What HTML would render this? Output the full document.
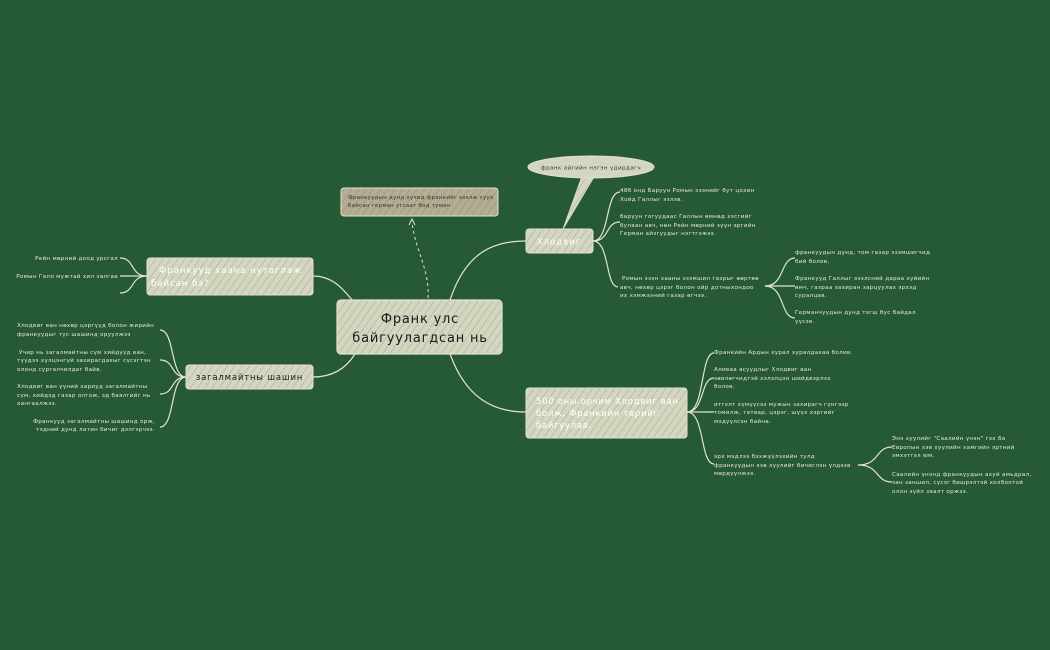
<!DOCTYPE html>
<html><head><meta charset="utf-8"><style>
html,body{margin:0;padding:0;background:#265935;}
svg{display:block}
text{font-family:"DejaVu Sans","Liberation Sans",sans-serif;}
.lf{font-size:5.6px;fill:#ece9d2;letter-spacing:0.3px}
.ln{fill:none;stroke:#e4e2cc;stroke-width:1.2}
</style></head><body>
<svg width="1050" height="650" viewBox="0 0 1050 650" xmlns="http://www.w3.org/2000/svg">
<defs>
<pattern id="h" width="6" height="6" patternUnits="userSpaceOnUse" patternTransform="rotate(35)">
<rect width="6" height="6" fill="#d5d6c0"/>
<line x1="0" y1="0" x2="0" y2="6" stroke="#8ea07e" stroke-width="0.8"/>
</pattern>
<pattern id="ht" width="6" height="6" patternUnits="userSpaceOnUse" patternTransform="rotate(35)">
<rect width="6" height="6" fill="#b3ad92"/>
<line x1="0" y1="0" x2="0" y2="6" stroke="#7f8a6a" stroke-width="0.8"/>
</pattern>
</defs>
<rect width="1050" height="650" fill="#265935"/>

<!-- main connectors -->
<path class="ln" d="M450,300 C465,255 490,241 526,241"/>
<path class="ln" d="M450,354 C465,395 490,412 526,412"/>
<path class="ln" d="M352,300 C340,285 330,276 313,276"/>
<path class="ln" d="M355,354 C345,370 330,377 313,377"/>
<path d="M428,298 C430,270 415,250 412,222" fill="none" stroke="#e4e2cc" stroke-width="1" stroke-dasharray="3,3"/>
<path d="M409,225 L412,219 L415,225" fill="none" stroke="#e4e2cc" stroke-width="1"/>

<!-- Хлодвиг leaves -->
<path class="ln" d="M593,241 C610,241 605,192 620,192"/>
<path class="ln" d="M593,241 C610,241 605,222 620,222"/>
<path class="ln" d="M593,241 C610,241 605,287 618,287"/>
<text class="lf" x="620" y="192">486 онд Баруун Ромын эзэнийг бут цохин</text>
<text class="lf" x="620" y="201">Хойд Галлыг эзлэв.</text>
<text class="lf" x="620" y="218">баруун гогуудаас Галлын өмнөд хэсгийг</text>
<text class="lf" x="620" y="227">булаан авч, нөн Рейн мөрний зүүн эргийн</text>
<text class="lf" x="620" y="235">Герман айзгуудыг нэгтгэжээ.</text>
<text class="lf" x="622" y="280">Ромын эзэн хааны эзэмшил газрыг өөртөө</text>
<text class="lf" x="620" y="289">авч, нөхөр цэрэг болон ойр дотныхондоо</text>
<text class="lf" x="620" y="297">их хэмжээний газар өгчээ.</text>
<path class="ln" d="M765,286 C785,286 780,258 795,258"/>
<path class="ln" d="M765,286 C780,286 785,286 795,286"/>
<path class="ln" d="M765,286 C785,286 780,318 795,318"/>
<text class="lf" x="795" y="254">франкуудын дунд, том газар эзэмшигчид</text>
<text class="lf" x="795" y="263">бий болов,</text>
<text class="lf" x="795" y="280">Франкууд Галлыг эзэлсний дараа хүйийн</text>
<text class="lf" x="795" y="289">өмч, газраа захиран зарцуулах эрхэд</text>
<text class="lf" x="795" y="297">суралцав.</text>
<text class="lf" x="795" y="314">Германчуудын дунд тэгш бус байдал</text>
<text class="lf" x="795" y="323">үүсэв.</text>

<!-- 500 leaves -->
<path class="ln" d="M687,412 C705,412 700,353 714,353"/>
<path class="ln" d="M687,412 C705,412 700,378 714,378"/>
<path class="ln" d="M687,412 C700,412 705,412 714,412"/>
<path class="ln" d="M687,412 C705,412 700,464 714,464"/>
<text class="lf" x="714" y="354">Франкийн Ардын хурал хуралдахаа болив.</text>
<text class="lf" x="714" y="371">Аливаа асуудлыг Хлодвиг ван</text>
<text class="lf" x="714" y="380">зөвлөгчидтэй хэлэлцэн шийдвэрлэх</text>
<text class="lf" x="714" y="388">болов.</text>
<text class="lf" x="714" y="406">итгэлт хүмүүсээ мужын захирагч гүнгээр</text>
<text class="lf" x="714" y="414">томилж, татвар, цэрэг, шүүх хэргийг</text>
<text class="lf" x="714" y="423">мэдүүлсэн байна.</text>
<text class="lf" x="714" y="458">эрх мэдлээ бэхжүүлэхийн тулд</text>
<text class="lf" x="714" y="467">франкуудын хэв хуулийг бичиглэн үлдээв</text>
<text class="lf" x="714" y="475">мөрдүүлжээ.</text>
<path class="ln" d="M858,465 C880,465 875,447 892,447"/>
<path class="ln" d="M858,465 C880,465 875,482 892,482"/>
<text class="lf" x="892" y="440">Энэ хуулийг "Саалийн үнэн" гэх ба</text>
<text class="lf" x="892" y="449">Европын хэв хуулийн хамгийн эртний</text>
<text class="lf" x="892" y="457">эмхэтгэл юм.</text>
<text class="lf" x="892" y="476">Саалийн үнэнд франкуудын ахуй амьдрал,</text>
<text class="lf" x="892" y="484">зан заншил, сүсэг бишрэлтэй холбоотой</text>
<text class="lf" x="892" y="493">олон зүйл заалт оржээ.</text>

<!-- left top leaves -->
<path class="ln" d="M147,276 C130,276 135,258 120,258"/>
<path class="ln" d="M147,276 C135,276 130,276 120,276"/>
<path class="ln" d="M147,276 C130,276 135,293 120,293"/>
<text class="lf" x="118" y="260" text-anchor="end">Рейн мөрний доод урсгал</text>
<text class="lf" x="118" y="278" text-anchor="end">Ромын Галл мужтай хил залгаа</text>

<!-- left bottom leaves -->
<path class="ln" d="M186,377 C170,377 175,330 160,330"/>
<path class="ln" d="M186,377 C170,377 175,360 160,360"/>
<path class="ln" d="M186,377 C170,377 175,394 160,394"/>
<path class="ln" d="M186,377 C170,377 175,427 160,427"/>
<text class="lf" x="17" y="327">Хлодвиг ван нөхөр цэргүүд болон жирийн</text>
<text class="lf" x="17" y="336">франкуудыг түс шашинд  оруулжээ</text>
<text class="lf" x="19" y="354">Учир нь загалмайтны сүм хийдүүд ван,</text>
<text class="lf" x="17" y="362">түүдээ хүлцэнгүй захирагдахыг сүсэгтэн</text>
<text class="lf" x="17" y="371">олонд сургалчилдаг байв.</text>
<text class="lf" x="17" y="388">Хлодвиг ван үүний хариуд загалмайтны</text>
<text class="lf" x="17" y="397">сүм, хийдэд газар олгож, эд баялгийг нь</text>
<text class="lf" x="17" y="405">хангаалжээ.</text>
<text class="lf" x="155" y="423" text-anchor="end">Франкууд загалмайтны шашинд орж,</text>
<text class="lf" x="155" y="431" text-anchor="end">тэдний дунд латин бичиг дэлгэрчээ.</text>

<!-- bubble -->
<path d="M563,229 L582,176 L594,177 Z" fill="url(#h)" stroke="#e4e2cc" stroke-width="0.8"/>
<ellipse cx="591" cy="167" rx="63" ry="11" fill="#d5d6c0" stroke="#e4e2cc"/>
<text x="591" y="169.5" font-size="5.6" fill="#333" text-anchor="middle" letter-spacing="0.4">франк айгийн нэгэн удирдагч</text>

<!-- callout -->
<rect x="341" y="188" width="157" height="28" rx="3" fill="url(#ht)" stroke="#e4e2cc" stroke-width="1"/>
<text x="348" y="199" font-size="5.4" fill="#333" letter-spacing="0.3">Франкуудын дунд хүчид франкийг эзэлж суух</text>
<text x="348" y="207" font-size="5.4" fill="#333" letter-spacing="0.3">байсан герман угсаат бод туман</text>

<!-- central -->
<rect x="337" y="300" width="165" height="54" rx="4" fill="url(#h)" stroke="#e4e2cc" stroke-width="1.2"/>
<text x="420" y="323" font-size="13" fill="#1a1a1a" text-anchor="middle" letter-spacing="0.8">Франк улс</text>
<text x="420" y="342" font-size="13" fill="#1a1a1a" text-anchor="middle" letter-spacing="0.8">байгуулагдсан нь</text>

<!-- Хлодвиг -->
<rect x="526" y="229" width="67" height="24" rx="3" fill="url(#h)" stroke="#e4e2cc" stroke-width="1"/>
<text x="559" y="244.5" font-size="8.5" fill="#fff" text-anchor="middle" letter-spacing="1">Хлодвиг</text>

<!-- 500 -->
<rect x="526" y="388" width="161" height="50" rx="3" fill="url(#h)" stroke="#e4e2cc" stroke-width="1"/>
<text x="536" y="404" font-size="8.5" fill="#fff" letter-spacing="0.7">500 оны орчим Хлодвиг ван</text>
<text x="536" y="416" font-size="8.5" fill="#fff" letter-spacing="0.7">болж, Франкийн төрийг</text>
<text x="536" y="428" font-size="8.5" fill="#fff" letter-spacing="0.7">байгуулав.</text>

<!-- Франкууд хаана -->
<rect x="147" y="258" width="166" height="37" rx="3" fill="url(#h)" stroke="#e4e2cc" stroke-width="1"/>
<text x="159" y="273" font-size="8.5" fill="#fff" letter-spacing="1">Франкууд хаана нутаглаж</text>
<text x="151" y="286" font-size="8.5" fill="#fff" letter-spacing="1">байсан бэ?</text>

<!-- загалмайтны -->
<rect x="186" y="365" width="127" height="24" rx="3" fill="url(#h)" stroke="#e4e2cc" stroke-width="1"/>
<text x="249.5" y="380" font-size="8.5" fill="#1a1a1a" text-anchor="middle" letter-spacing="0.8">загалмайтны шашин</text>
</svg>
</body></html>
